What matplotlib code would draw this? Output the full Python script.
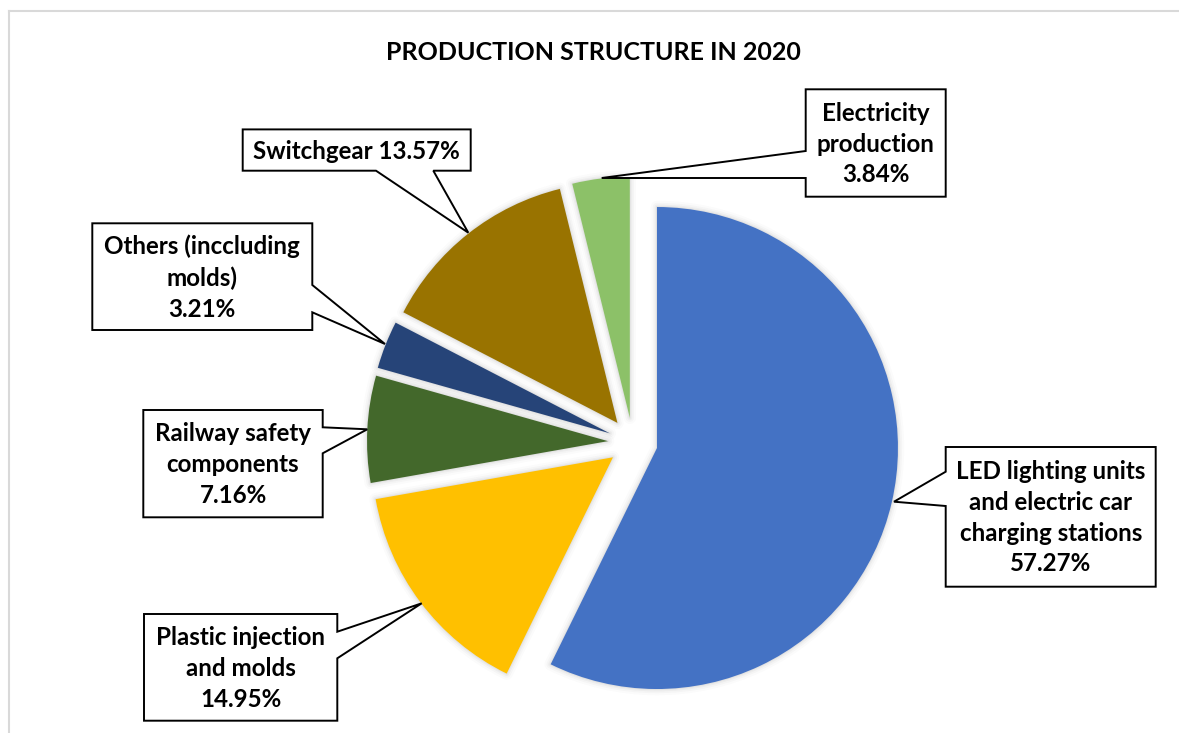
import matplotlib
matplotlib.use("Agg")
import matplotlib.pyplot as plt
from matplotlib.patches import Polygon, Wedge
from matplotlib.lines import Line2D

# ---------------- data ----------------
categories = ["LED lighting units\nand electric car\ncharging stations",
              "Plastic injection\nand molds",
              "Railway safety\ncomponents",
              "Others (inccluding\nmolds)",
              "Switchgear",
              "Electricity\nproduction"]
shares = [57.27, 14.95, 7.16, 3.21, 13.57, 3.84]
title_text = "PRODUCTION STRUCTURE IN 2020"

# ---------------- style ----------------
colors = ["#4472C4", "#FFC000", "#43682B", "#264478", "#997300", "#8CC168"]
label_sep = ["\n", "\n", "\n", "\n", " ", "\n"]
FONT = ["Lato", "DejaVu Sans"]
W, H = 1179, 733
CX, CY, R = 632.8, 442.4, 241.0     # pie centre / radius in pixels
EXPLODE = 24.8 / R

# callout geometry in pixels (box l, t, r, b ; notch side ; notch a, b ; tip)
callouts = [
    dict(box=(945.7, 447.0, 1155.7, 586.7), side="left", n=(471.7, 506.0), tip=(894.0, 501.7)),
    dict(box=(144.0, 614.0, 337.3, 720.7), side="right", n=(631.7, 658.3), tip=(421.7, 603.3)),
    dict(box=(143.3, 410.0, 322.7, 517.3), side="right", n=(427.3, 453.3), tip=(367.3, 429.3)),
    dict(box=(92.3, 223.3, 312.3, 330.0), side="right", n=(285.0, 312.3), tip=(385.0, 344.0)),
    dict(box=(242.7, 129.4, 470.7, 170.7), side="bottom", n=(376.0, 433.3), tip=(468.3, 232.7)),
    dict(box=(805.7, 89.3, 945.7, 196.7), side="left", n=(151.0, 178.0), tip=(601.7, 178.0)),
]

def P(x, y):
    return ((x - CX) / R, (CY - y) / R)

fig = plt.figure(figsize=(W / 100, H / 100), dpi=100)
ax = fig.add_axes([0, 0, 1, 1])

wedges, _ = ax.pie(shares, colors=colors, startangle=90, counterclock=False,
                   explode=[EXPLODE] * len(shares), radius=1.0, center=(0, 0),
                   wedgeprops=dict(linewidth=0))
for w in wedges:
    w.set_zorder(3)
    # soft shadow / glow
    for lw, a in [(9, 0.025), (6, 0.035), (3.5, 0.05), (1.5, 0.07)]:
        s = Wedge(w.center, w.r, w.theta1, w.theta2, facecolor="none",
                  edgecolor=(0.35, 0.35, 0.35, a), linewidth=lw, joinstyle="round",
                  zorder=2)
        ax.add_patch(s)

ax.set_xlim((0 - CX) / R, (W - CX) / R)
ax.set_ylim((CY - H) / R, CY / R)
ax.set_aspect("auto")
ax.axis("off")

fig.canvas.draw()
rend = fig.canvas.get_renderer()

def fit_size(text, target):
    t = ax.text(0, 0, text, fontsize=10, fontweight="bold", family=FONT)
    wd = t.get_window_extent(renderer=rend).width
    t.remove()
    return 10 * target / wd

lab_size = fit_size("Switchgear 13.57%", 207)
ttl_size = fit_size(title_text, 415)

# linespacing to reach a 32.3 px pitch
t1 = ax.text(0, 0, "A", fontsize=lab_size, fontweight="bold", family=FONT, linespacing=1.0)
t2 = ax.text(0, 0, "A\nA", fontsize=lab_size, fontweight="bold", family=FONT, linespacing=1.0)
pitch = t2.get_window_extent(renderer=rend).height - t1.get_window_extent(renderer=rend).height
t1.remove(); t2.remove()
lsp = 32.3 / pitch

for cat, val, sep, c in zip(categories, shares, label_sep, callouts):
    l, t, r, b = c["box"]
    na, nb = c["n"]
    tip = c["tip"]
    if c["side"] == "left":
        pts = [(l, t), (r, t), (r, b), (l, b), (l, nb), tip, (l, na)]
    elif c["side"] == "right":
        pts = [(l, t), (r, t), (r, na), tip, (r, nb), (r, b), (l, b)]
    else:  # bottom
        pts = [(l, t), (r, t), (r, b), (nb, b), tip, (na, b), (l, b)]
    poly = Polygon([P(*p) for p in pts], closed=True, facecolor="white",
                   edgecolor="black", linewidth=1.4, joinstyle="miter", zorder=5)
    ax.add_patch(poly)
    label = f"{cat}{sep}{val:.2f}%"
    ax.text(*P((l + r) / 2, (t + b) / 2 + 1), label, ha="center", va="center",
            multialignment="center", fontsize=lab_size, fontweight="bold",
            family=FONT, linespacing=lsp, color="black", zorder=6)

ax.text(*P(593, 52), title_text, ha="center", va="center", fontsize=ttl_size,
        fontweight="bold", family=FONT, color="black", zorder=6)

# chart-area border (light gray)
fig.add_artist(Line2D([9 / W, 9 / W], [0, 1 - 11 / H], transform=fig.transFigure,
                      color="#D9D9D9", linewidth=1.5))
fig.add_artist(Line2D([9 / W, 1], [1 - 11 / H, 1 - 11 / H], transform=fig.transFigure,
                      color="#D9D9D9", linewidth=1.5))

fig.savefig("out.png", dpi=100, facecolor="white")
